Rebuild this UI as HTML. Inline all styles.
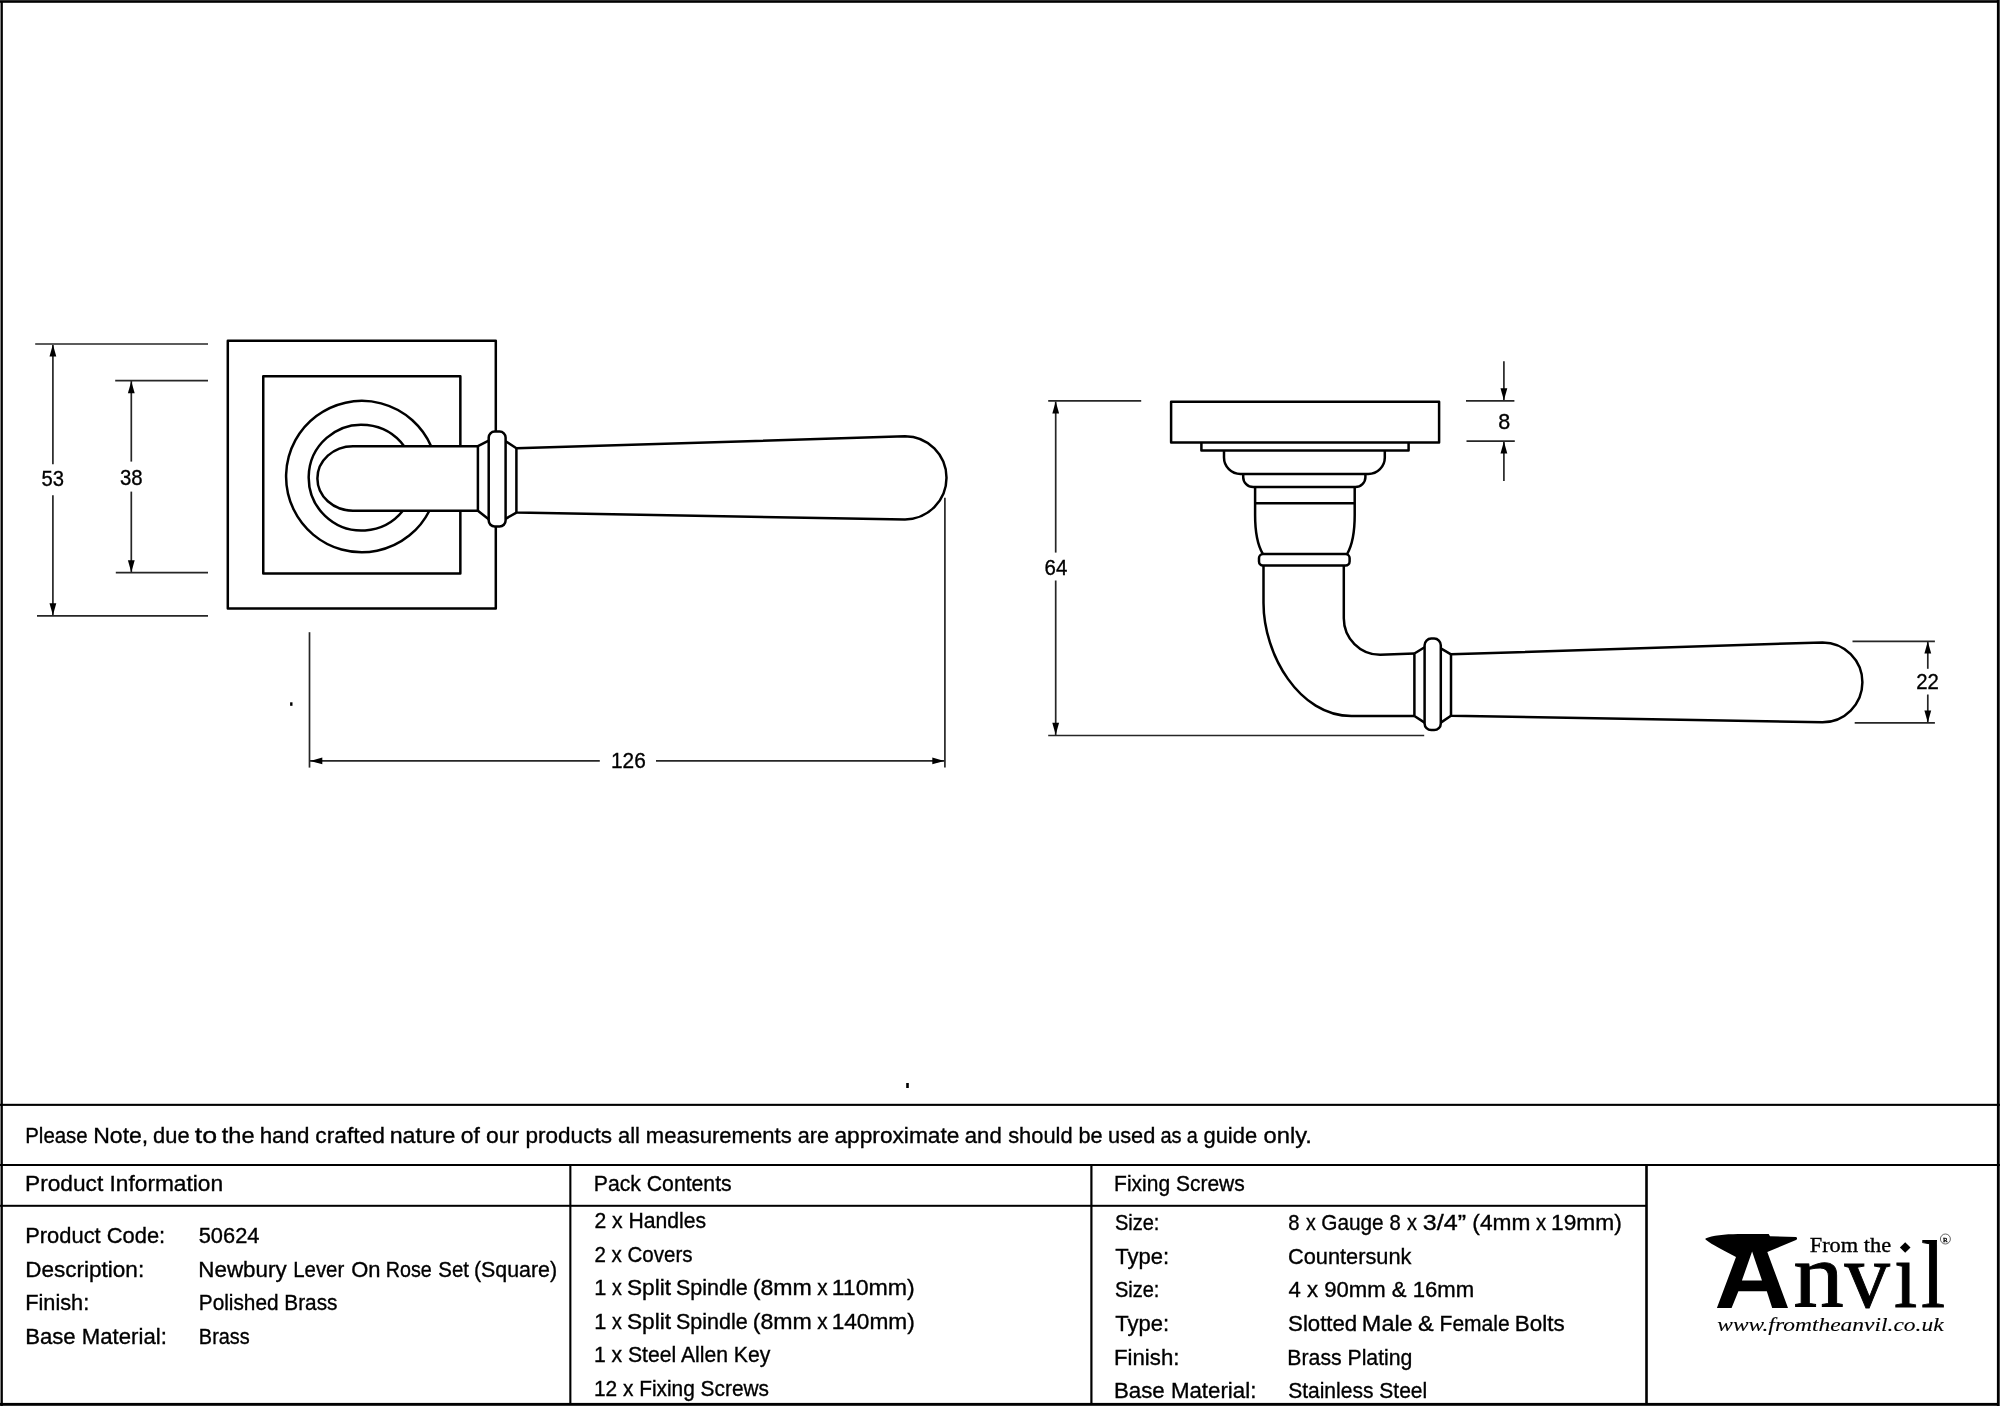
<!DOCTYPE html>
<html><head><meta charset="utf-8"><title>Newbury Lever On Rose Set (Square) - 50624</title>
<style>
html,body{margin:0;padding:0;background:#fff;width:2000px;height:1408px;overflow:hidden}
svg{position:absolute;left:0;top:0;display:block;will-change:transform}
text{font-family:"Liberation Sans",sans-serif;fill:#000;stroke:#000;stroke-width:0.35px}
text[font-family]{font-family:"Liberation Serif",serif}
</style></head><body>
<svg width="2000" height="1408" viewBox="0 0 2000 1408">
<rect width="2000" height="1408" fill="#fff"/>
<g fill="#000">
<rect x="0" y="0" width="1" height="1406" fill="#858585"/>
<rect x="1" y="0" width="1.85" height="1406"/>
<rect x="0" y="0" width="2000" height="1" fill="#2c2c2c"/>
<rect x="0" y="1" width="2000" height="1.8"/>
<rect x="1996.9" y="0" width="2.1" height="1406"/>
<rect x="1999" y="0" width="1" height="1406" fill="#4b4b4b"/>
<rect x="0" y="1402.9" width="1999" height="2.9"/>

<rect x="0" y="1103.8" width="2000" height="2.1"/>
<rect x="0" y="1164" width="2000" height="2"/>
<rect x="0" y="1204.8" width="1646" height="2"/>
<rect x="569.3" y="1165" width="2.1" height="240"/>
<rect x="1090.3" y="1165" width="2.2" height="240"/>
<rect x="1645.2" y="1165" width="2.6" height="240"/>
<rect x="906.2" y="1083" width="2.6" height="5"/>
<rect x="290.1" y="702.3" width="2.4" height="3.5"/>
</g>
<g fill="none" stroke="#262626" stroke-width="1.7"><line x1="35.2" y1="344" x2="208" y2="344"/><line x1="37" y1="615.8" x2="208" y2="615.8"/><line x1="52.9" y1="345" x2="52.9" y2="464.3"/><line x1="52.9" y1="495.2" x2="52.9" y2="615"/><line x1="115.2" y1="380.6" x2="208" y2="380.6"/><line x1="115.8" y1="572.6" x2="208" y2="572.6"/><line x1="131.3" y1="381" x2="131.3" y2="461.6"/><line x1="131.3" y1="491.6" x2="131.3" y2="572"/><line x1="309.5" y1="632.2" x2="309.5" y2="767.6"/><line x1="944.9" y1="497.7" x2="944.9" y2="767.6"/><line x1="310" y1="760.9" x2="599.8" y2="760.9"/><line x1="656" y1="760.9" x2="944.5" y2="760.9"/><line x1="1048.2" y1="400.8" x2="1141.2" y2="400.8"/><line x1="1048.2" y1="735.5" x2="1424.2" y2="735.5"/><line x1="1055.7" y1="401.5" x2="1055.7" y2="552.6"/><line x1="1055.7" y1="580.5" x2="1055.7" y2="735"/><line x1="1466" y1="400.8" x2="1514.4" y2="400.8"/><line x1="1466.5" y1="441.1" x2="1514.8" y2="441.1"/><line x1="1503.9" y1="361.2" x2="1503.9" y2="400"/><line x1="1503.9" y1="442" x2="1503.9" y2="481"/><line x1="1852.5" y1="641.4" x2="1934.9" y2="641.4"/><line x1="1854.7" y1="722.8" x2="1934.9" y2="722.8"/><line x1="1927.8" y1="642" x2="1927.8" y2="668.8"/><line x1="1927.8" y1="694.5" x2="1927.8" y2="722.3"/></g>
<g fill="#000"><polygon points="52.90,344.60 49.50,356.60 56.30,356.60"/><polygon points="52.90,615.20 49.50,603.20 56.30,603.20"/><polygon points="131.30,381.20 127.90,393.20 134.70,393.20"/><polygon points="131.30,572.20 127.90,560.20 134.70,560.20"/><polygon points="310.30,760.90 322.30,757.50 322.30,764.30"/><polygon points="944.30,760.90 932.30,757.50 932.30,764.30"/><polygon points="1055.70,401.60 1052.30,413.60 1059.10,413.60"/><polygon points="1055.70,734.80 1052.30,722.80 1059.10,722.80"/><polygon points="1503.90,400.20 1500.50,388.20 1507.30,388.20"/><polygon points="1503.90,441.40 1500.50,453.40 1507.30,453.40"/><polygon points="1927.80,641.60 1924.40,653.60 1931.20,653.60"/><polygon points="1927.80,722.60 1924.40,710.60 1931.20,710.60"/></g>
<g fill="none" stroke="#000" stroke-width="2.5" stroke-linejoin="round"><path d="M495.8,431.5 V340.65 H227.8 V608.55 H495.8 V526.6"/><path d="M460.35,446.2 V376.25 H263.25 V573.45 H460.35 V510.7"/><path d="M431.13,446.2 A75.7,75.7 0 1 0 429.38,510.7"/><path d="M404.17,446.2 A52.9,52.9 0 1 0 402.86,510.7"/><path d="M477.9,446.2 H353 A35.6,32.25 0 0 0 353,510.7 H477.9 Z"/><path d="M477.9,446.2 L488.7,440.6 M477.9,510.7 L488.7,519.2"/><path d="M494.7,431.6 H499.6 A6,6 0 0 1 505.6,437.6 V520.5 A6,6 0 0 1 499.6,526.5 H494.7 A6,6 0 0 1 488.7,520.5 V437.6 A6,6 0 0 1 494.7,431.6 Z"/><path d="M505.6,441.2 L516.4,448.3 M505.6,518.8 L516.4,512.6"/><path d="M516.4,448.3 V512.6 L905,519.4 A41.5,41.55 0 0 0 905,436.3 Z"/><path d="M1171.1,401.8 H1439.1 V442.4 H1171.1 Z"/><path d="M1201.4,442.4 V450.6 H1408.6 V442.4"/><path d="M1224,450.6 V457.5 A16.5,16.5 0 0 0 1240.5,474 H1368.3 A16.5,16.5 0 0 0 1384.8,457.5 V450.6"/><path d="M1243.2,474 V477.2 A10,9.8 0 0 0 1253.2,487 H1355.4 A10,9.8 0 0 0 1365.4,477.2 V474"/><path d="M1255.1,487 V515 C1255.1,532 1257.5,545 1262.8,553.8 M1354.7,487 V515 C1354.7,532 1352.3,545 1347.2,553.8 M1255.1,503.3 H1354.7"/><path d="M1263,554.1 H1345.6 A4,4 0 0 1 1349.6,558.1 V561.6 A4,4 0 0 1 1345.6,565.6 H1263 A4,4 0 0 1 1259,561.6 V558.1 A4,4 0 0 1 1263,554.1 Z"/><path d="M1263.5,565.6 V603 C1263.5,654.6 1299.3,716.1 1351.4,716.1 H1414.4 M1343.8,565.6 V618.3 A36.3,36.5 0 0 0 1380.1,654.8 L1414.4,653.5"/><path d="M1414.4,653.5 V716 M1414.4,653.5 L1424.6,647.2 M1414.4,716 L1424.6,722.6"/><path d="M1431.2,638.6 H1434.2 A6.6,6.6 0 0 1 1440.8,645.2 V723.4 A6.6,6.6 0 0 1 1434.2,730 H1431.2 A6.6,6.6 0 0 1 1424.6,723.4 V645.2 A6.6,6.6 0 0 1 1431.2,638.6 Z"/><path d="M1440.8,648.4 L1451,654.3 M1440.8,722.6 L1451,715.8"/><path d="M1451,654.3 V715.8 L1822.5,722.3 A39.95,39.95 0 0 0 1822.5,642.4 Z"/></g>
<g fill="#000">
<path fill-rule="evenodd" d="M1705.5,1238.6 C1712,1235.5 1725,1234.2 1738,1234 L1768.7,1234 L1770,1236.3 L1796,1237 C1797.5,1237.6 1797.3,1239.3 1796,1240 L1767.3,1252 L1788,1308 L1772.2,1308 L1766.8,1291.3 L1738.4,1291.3 L1731.6,1308 L1716.9,1308 L1736,1257 C1725,1251 1712,1245 1705.5,1239.6 Z M1752.1,1251.6 L1762,1280.6 L1741.9,1280.6 Z"/>
<path d="M1905.2,1242.2 L1910.5,1247.5 L1905.2,1252.8 L1899.9,1247.5 Z"/>
<circle cx="1945.4" cy="1239" r="5" fill="none" stroke="#000" stroke-width="0.6"/>
<text x="1943.1" y="1241.6" font-size="7" font-family="Liberation Serif" style="font-family:'Liberation Serif',serif">R</text>
</g>
<text font-size="100" font-family="Liberation Serif" style="stroke-width:0.925px" transform="matrix(1.0110,0,0,0.9359,1793.23,1306.95)">n</text><text font-size="100" font-family="Liberation Serif" style="stroke-width:0.974px" transform="matrix(0.9080,0,0,0.9408,1844.45,1307.33)">v</text><text font-size="100" font-family="Liberation Serif" style="stroke-width:1.001px" transform="matrix(0.8369,0,0,0.9608,1894.09,1306.95)">ı</text><text font-size="100" font-family="Liberation Serif" style="stroke-width:0.987px" transform="matrix(0.8705,0,0,0.9541,1920.91,1306.95)">l</text>
<g><text x="25.22" y="1142.70" font-size="22" textLength="62.48" lengthAdjust="spacingAndGlyphs">Please</text><text x="93.21" y="1142.70" font-size="22" textLength="55.06" lengthAdjust="spacingAndGlyphs">Note,</text><text x="153.08" y="1142.70" font-size="22" textLength="36.49" lengthAdjust="spacingAndGlyphs">due</text><text x="194.79" y="1142.70" font-size="22" textLength="22.33" lengthAdjust="spacingAndGlyphs">to</text><text x="221.74" y="1142.70" font-size="22" textLength="32.81" lengthAdjust="spacingAndGlyphs">the</text><text x="259.65" y="1142.70" font-size="22" textLength="49.69" lengthAdjust="spacingAndGlyphs">hand</text><text x="315.33" y="1142.70" font-size="22" textLength="69.53" lengthAdjust="spacingAndGlyphs">crafted</text><text x="389.66" y="1142.70" font-size="22" textLength="65.77" lengthAdjust="spacingAndGlyphs">nature</text><text x="460.84" y="1142.70" font-size="22" textLength="19.13" lengthAdjust="spacingAndGlyphs">of</text><text x="485.94" y="1142.70" font-size="22" textLength="33.14" lengthAdjust="spacingAndGlyphs">our</text><text x="525.55" y="1142.70" font-size="22" textLength="86.36" lengthAdjust="spacingAndGlyphs">products</text><text x="617.97" y="1142.70" font-size="22" textLength="21.89" lengthAdjust="spacingAndGlyphs">all</text><text x="645.84" y="1142.70" font-size="22" textLength="145.86" lengthAdjust="spacingAndGlyphs">measurements</text><text x="797.68" y="1142.70" font-size="22" textLength="31.28" lengthAdjust="spacingAndGlyphs">are</text><text x="834.44" y="1142.70" font-size="22" textLength="124.97" lengthAdjust="spacingAndGlyphs">approximate</text><text x="964.76" y="1142.70" font-size="22" textLength="36.97" lengthAdjust="spacingAndGlyphs">and</text><text x="1008.19" y="1142.70" font-size="22" textLength="64.42" lengthAdjust="spacingAndGlyphs">should</text><text x="1078.50" y="1142.70" font-size="22" textLength="24.17" lengthAdjust="spacingAndGlyphs">be</text><text x="1108.09" y="1142.70" font-size="22" textLength="47.22" lengthAdjust="spacingAndGlyphs">used</text><text x="1160.45" y="1142.70" font-size="22" textLength="21.18" lengthAdjust="spacingAndGlyphs">as</text><text x="1186.86" y="1142.70" font-size="22" textLength="11.04" lengthAdjust="spacingAndGlyphs">a</text><text x="1203.48" y="1142.70" font-size="22" textLength="53.70" lengthAdjust="spacingAndGlyphs">guide</text><text x="1263.54" y="1142.70" font-size="22" textLength="48.35" lengthAdjust="spacingAndGlyphs">only.</text><text x="25.04" y="1191.20" font-size="22" textLength="198.04" lengthAdjust="spacingAndGlyphs">Product Information</text><text x="593.76" y="1191.00" font-size="22" textLength="137.91" lengthAdjust="spacingAndGlyphs">Pack Contents</text><text x="1114.08" y="1191.00" font-size="22" textLength="130.68" lengthAdjust="spacingAndGlyphs">Fixing Screws</text><text x="25.20" y="1242.60" font-size="22" textLength="140.00" lengthAdjust="spacingAndGlyphs">Product Code:</text><text x="198.73" y="1242.60" font-size="22" textLength="60.71" lengthAdjust="spacingAndGlyphs">50624</text><text x="25.15" y="1276.75" font-size="22" textLength="119.01" lengthAdjust="spacingAndGlyphs">Description:</text><text x="198.36" y="1276.75" font-size="22" textLength="88.28" lengthAdjust="spacingAndGlyphs">Newbury</text><text x="293.23" y="1276.75" font-size="22" textLength="51.01" lengthAdjust="spacingAndGlyphs">Lever</text><text x="351.26" y="1276.75" font-size="22" textLength="29.26" lengthAdjust="spacingAndGlyphs">On</text><text x="385.78" y="1276.75" font-size="22" textLength="45.99" lengthAdjust="spacingAndGlyphs">Rose</text><text x="438.27" y="1276.75" font-size="22" textLength="30.68" lengthAdjust="spacingAndGlyphs">Set</text><text x="473.97" y="1276.75" font-size="22" textLength="83.15" lengthAdjust="spacingAndGlyphs">(Square)</text><text x="25.22" y="1310.30" font-size="22" textLength="63.96" lengthAdjust="spacingAndGlyphs">Finish:</text><text x="198.79" y="1310.30" font-size="22" textLength="138.66" lengthAdjust="spacingAndGlyphs">Polished Brass</text><text x="25.18" y="1343.70" font-size="22" textLength="141.64" lengthAdjust="spacingAndGlyphs">Base Material:</text><text x="198.87" y="1343.70" font-size="22" textLength="50.85" lengthAdjust="spacingAndGlyphs">Brass</text><text x="594.44" y="1227.50" font-size="22" textLength="111.73" lengthAdjust="spacingAndGlyphs">2 x Handles</text><text x="594.47" y="1261.50" font-size="22" textLength="98.07" lengthAdjust="spacingAndGlyphs">2 x Covers</text><text x="594.14" y="1295.20" font-size="22" textLength="12.13" lengthAdjust="spacingAndGlyphs">1</text><text x="612.08" y="1295.20" font-size="22" textLength="9.83" lengthAdjust="spacingAndGlyphs">x</text><text x="626.97" y="1295.20" font-size="22" textLength="44.10" lengthAdjust="spacingAndGlyphs">Split</text><text x="676.02" y="1295.20" font-size="22" textLength="71.73" lengthAdjust="spacingAndGlyphs">Spindle</text><text x="752.77" y="1295.20" font-size="22" textLength="59.06" lengthAdjust="spacingAndGlyphs">(8mm</text><text x="817.17" y="1295.20" font-size="22" textLength="10.36" lengthAdjust="spacingAndGlyphs">x</text><text x="831.67" y="1295.20" font-size="22" textLength="83.13" lengthAdjust="spacingAndGlyphs">110mm)</text><text x="594.14" y="1328.50" font-size="22" textLength="12.13" lengthAdjust="spacingAndGlyphs">1</text><text x="612.08" y="1328.50" font-size="22" textLength="9.83" lengthAdjust="spacingAndGlyphs">x</text><text x="626.97" y="1328.50" font-size="22" textLength="44.10" lengthAdjust="spacingAndGlyphs">Split</text><text x="676.02" y="1328.50" font-size="22" textLength="71.73" lengthAdjust="spacingAndGlyphs">Spindle</text><text x="752.77" y="1328.50" font-size="22" textLength="59.06" lengthAdjust="spacingAndGlyphs">(8mm</text><text x="817.17" y="1328.50" font-size="22" textLength="10.36" lengthAdjust="spacingAndGlyphs">x</text><text x="831.67" y="1328.50" font-size="22" textLength="83.13" lengthAdjust="spacingAndGlyphs">140mm)</text><text x="593.90" y="1362.00" font-size="22" textLength="176.44" lengthAdjust="spacingAndGlyphs">1 x Steel Allen Key</text><text x="593.91" y="1395.50" font-size="22" textLength="175.14" lengthAdjust="spacingAndGlyphs">12 x Fixing Screws</text><text x="1114.89" y="1230.10" font-size="22" textLength="44.54" lengthAdjust="spacingAndGlyphs">Size:</text><text x="1288.32" y="1230.10" font-size="22" textLength="11.26" lengthAdjust="spacingAndGlyphs">8</text><text x="1305.88" y="1230.10" font-size="22" textLength="9.73" lengthAdjust="spacingAndGlyphs">x</text><text x="1321.26" y="1230.10" font-size="22" textLength="62.37" lengthAdjust="spacingAndGlyphs">Gauge</text><text x="1389.52" y="1230.10" font-size="22" textLength="11.26" lengthAdjust="spacingAndGlyphs">8</text><text x="1407.08" y="1230.10" font-size="22" textLength="9.94" lengthAdjust="spacingAndGlyphs">x</text><text x="1422.74" y="1230.10" font-size="22" textLength="43.28" lengthAdjust="spacingAndGlyphs">3/4”</text><text x="1472.39" y="1230.10" font-size="22" textLength="58.11" lengthAdjust="spacingAndGlyphs">(4mm</text><text x="1535.97" y="1230.10" font-size="22" textLength="10.15" lengthAdjust="spacingAndGlyphs">x</text><text x="1551.07" y="1230.10" font-size="22" textLength="70.74" lengthAdjust="spacingAndGlyphs">19mm)</text><text x="1115.32" y="1263.50" font-size="22" textLength="53.74" lengthAdjust="spacingAndGlyphs">Type:</text><text x="1287.99" y="1263.50" font-size="22" textLength="123.47" lengthAdjust="spacingAndGlyphs">Countersunk</text><text x="1114.89" y="1297.00" font-size="22" textLength="44.54" lengthAdjust="spacingAndGlyphs">Size:</text><text x="1288.59" y="1297.00" font-size="22" textLength="185.57" lengthAdjust="spacingAndGlyphs">4 x 90mm &amp; 16mm</text><text x="1115.32" y="1331.20" font-size="22" textLength="53.74" lengthAdjust="spacingAndGlyphs">Type:</text><text x="1288.09" y="1331.20" font-size="22" textLength="69.14" lengthAdjust="spacingAndGlyphs">Slotted</text><text x="1361.88" y="1331.20" font-size="22" textLength="50.76" lengthAdjust="spacingAndGlyphs">Male</text><text x="1418.07" y="1331.20" font-size="22" textLength="15.69" lengthAdjust="spacingAndGlyphs">&amp;</text><text x="1439.58" y="1331.20" font-size="22" textLength="70.06" lengthAdjust="spacingAndGlyphs">Female</text><text x="1514.86" y="1331.20" font-size="22" textLength="49.85" lengthAdjust="spacingAndGlyphs">Bolts</text><text x="1113.98" y="1364.80" font-size="22" textLength="65.45" lengthAdjust="spacingAndGlyphs">Finish:</text><text x="1287.36" y="1364.80" font-size="22" textLength="125.01" lengthAdjust="spacingAndGlyphs">Brass Plating</text><text x="1113.97" y="1397.90" font-size="22" textLength="142.36" lengthAdjust="spacingAndGlyphs">Base Material:</text><text x="1288.15" y="1397.90" font-size="22" textLength="139.06" lengthAdjust="spacingAndGlyphs">Stainless Steel</text><text x="1809.76" y="1251.80" font-size="22" font-family="Liberation Serif" textLength="81.32" lengthAdjust="spacingAndGlyphs">From the</text><text x="1717.24" y="1330.80" font-size="19.5" font-family="Liberation Serif" font-style="italic" textLength="226.42" lengthAdjust="spacingAndGlyphs" style="stroke-width:0.1px">www.fromtheanvil.co.uk</text><text x="41.49" y="485.60" font-size="22.5" textLength="22.50" lengthAdjust="spacingAndGlyphs">53</text><text x="119.92" y="484.70" font-size="22.5" textLength="22.66" lengthAdjust="spacingAndGlyphs">38</text><text x="611.01" y="767.80" font-size="22.5" textLength="34.81" lengthAdjust="spacingAndGlyphs">126</text><text x="1044.56" y="575.00" font-size="22.5" textLength="22.74" lengthAdjust="spacingAndGlyphs">64</text><text x="1498.36" y="428.80" font-size="22.5" textLength="11.97" lengthAdjust="spacingAndGlyphs">8</text><text x="1916.18" y="688.50" font-size="22.5" textLength="22.65" lengthAdjust="spacingAndGlyphs">22</text></g>
</svg>
</body></html>
